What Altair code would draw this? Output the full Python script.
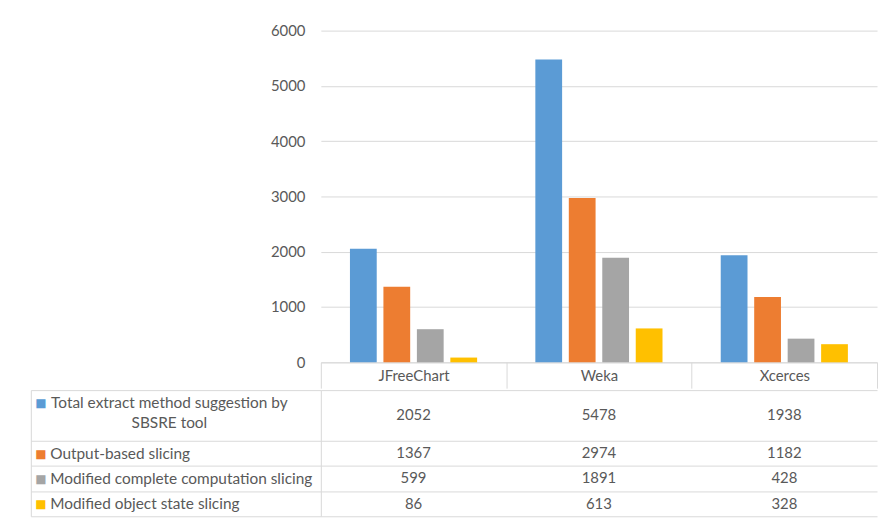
import altair as alt
import pandas as pd

categories = ["JFreeChart", "Weka", "Xcerces"]
series = [
    "Total extract method suggestion by SBSRE tool",
    "Output-based slicing",
    "Modified complete computation slicing",
    "Modified object state slicing",
]
label_lines = [
    ["Total extract method suggestion by", "SBSRE tool"],
    ["Output-based slicing"],
    ["Modified complete computation slicing"],
    ["Modified object state slicing"],
]
total_values = [2052, 5478, 1938]
output_values = [1367, 2974, 1182]
complete_values = [599, 1891, 428]
object_values = [86, 613, 328]
colors = ["#5B9BD5", "#ED7D31", "#A5A5A5", "#FFC000"]
y_ticks = [0, 1000, 2000, 3000, 4000, 5000, 6000]

FONT = "Lato"
FS = 15
FS_ROW = 15.5
TXT = "#595959"
GRID = "#D9D9D9"
LINE_H = 20

all_values = [total_values, output_values, complete_values, object_values]

bars_df = pd.DataFrame(
    [
        {"category": c, "series": s, "value": v}
        for s, vals in zip(series, all_values)
        for c, v in zip(categories, vals)
    ]
)

# table row geometry in "text line" units
centers, bounds = [], [0]
acc = 0
for lines in label_lines:
    centers.append(acc + len(lines) / 2)
    acc += len(lines)
    bounds.append(acc)
total_lines = acc

table_df = pd.DataFrame(
    [
        {"category": c, "series": s, "value": v, "center": ctr}
        for s, vals, ctr in zip(series, all_values, centers)
        for c, v in zip(categories, vals)
    ]
)


def js_str(t):
    return "'" + t.replace("'", "\\'") + "'"


def js_label(lines):
    if len(lines) == 1:
        return js_str(lines[0])
    return "[" + ", ".join(js_str(t) for t in lines) + "]"


single = [(c, l, col) for c, l, col in zip(centers, label_lines, colors) if len(l) == 1]
wrapped = [(c, l, col) for c, l, col in zip(centers, label_lines, colors) if len(l) > 1]


def text_expr(rows):
    e = ""
    for ctr, lines, _ in rows:
        e += f"datum.value == {ctr} ? {js_label(lines)} : "
    return e + "''"


def square_expr(rows):
    e = ""
    for ctr, _, _ in rows:
        e += f"datum.value == {ctr} ? '\u25a0' : "
    return e + "''"


def square_color(rows):
    return {
        "condition": [{"test": f"datum.value == {ctr}", "value": col} for ctr, _, col in rows],
        "value": TXT,
    }


bars = (
    alt.Chart(bars_df)
    .mark_bar()
    .encode(
        x=alt.X(
            "category:N",
            sort=categories,
            title=None,
            scale=alt.Scale(paddingInner=0, paddingOuter=0),
            axis=alt.Axis(
                labelAngle=0,
                tickBand="extent",
                tickSize=26,
                tickColor=GRID,
                domainColor=GRID,
                labelPadding=-13,
                labelBaseline="middle",
                labelFont=FONT,
                labelFontSize=FS,
                labelColor=TXT,
            ),
        ),
        xOffset=alt.XOffset(
            "series:N", sort=series, scale=alt.Scale(paddingInner=0.2, paddingOuter=0.87)
        ),
        y=alt.Y(
            "value:Q",
            title=None,
            scale=alt.Scale(domain=[0, 6000], nice=False),
            axis=alt.Axis(
                values=y_ticks,
                format="d",
                grid=True,
                gridColor=GRID,
                ticks=False,
                tickSize=0,
                domain=False,
                labelPadding=16,
                labelFont=FONT,
                labelFontSize=FS,
                labelColor=TXT,
            ),
        ),
        color=alt.Color(
            "series:N", sort=series, scale=alt.Scale(domain=series, range=colors), legend=None
        ),
    )
    .properties(width=560, height=334)
)

x_tab = alt.X(
    "category:N",
    sort=categories,
    title=None,
    scale=alt.Scale(paddingInner=0, paddingOuter=0),
    axis=alt.Axis(
        orient="bottom",
        labels=False,
        ticks=False,
        grid=True,
        tickBand="extent",
        gridColor=GRID,
        domainColor=GRID,
    ),
)
x_none = alt.X("category:N", sort=categories, axis=None)
y_scale = alt.Scale(domain=[0, total_lines], reverse=True, nice=False, zero=False)

cells = (
    alt.Chart(table_df)
    .mark_text(font=FONT, fontSize=FS, color=TXT)
    .encode(
        x=x_tab,
        y=alt.Y(
            "center:Q",
            title=None,
            scale=y_scale,
            axis=alt.Axis(
                orient="left",
                values=bounds,
                labels=False,
                tickSize=292,
                tickColor=GRID,
                grid=True,
                gridColor=GRID,
                domainColor=GRID,
            ),
        ),
        text="value:Q",
    )
)


def label_layer(axis):
    return (
        alt.Chart(table_df)
        .mark_text(opacity=0)
        .encode(
            x=x_none,
            y=alt.Y("center:Q", title=None, scale=y_scale, axis=axis),
            text="value:Q",
        )
    )


common = dict(
    orient="left",
    ticks=False,
    tickSize=0,
    grid=False,
    labelBaseline="middle",
    labelLimit=0,
    labelLineHeight=LINE_H,
)

# single-line row labels, left aligned
single_labels = label_layer(
    alt.Axis(
        values=[r[0] for r in single],
        domain=False,
        labelExpr=text_expr(single),
        labelAlign="left",
        labelPadding=273,
        labelFont=FONT,
        labelFontSize=FS_ROW,
        labelColor=TXT,
        **common,
    )
)
# wrapped row labels, lines centred
wrapped_labels = label_layer(
    alt.Axis(
        values=[r[0] for r in wrapped],
        domain=False,
        labelExpr=text_expr(wrapped),
        labelAlign="center",
        labelPadding=153,
        labelOffset=-LINE_H / 2 - 3,
        labelFont=FONT,
        labelFontSize=FS_ROW,
        labelColor=TXT,
        **common,
    )
)
# legend keys for single-line rows (+ left border of the table)
single_keys = label_layer(
    alt.Axis(
        values=[r[0] for r in single],
        offset=292,
        domain=True,
        domainColor=GRID,
        labelExpr=square_expr(single),
        labelAlign="left",
        labelPadding=-4,
        labelFont="DejaVu Sans",
        labelFontSize=12,
        labelColor=square_color(single),
        **common,
    )
)
# legend keys for wrapped rows (on first line)
wrapped_keys = label_layer(
    alt.Axis(
        values=[r[0] for r in wrapped],
        offset=292,
        domain=False,
        labelExpr=square_expr(wrapped),
        labelAlign="left",
        labelPadding=-4,
        labelOffset=-LINE_H / 2 - 3,
        labelFont="DejaVu Sans",
        labelFontSize=12,
        labelColor=square_color(wrapped),
        **common,
    )
)

table = (
    alt.layer(cells, single_labels, wrapped_labels, single_keys, wrapped_keys)
    .resolve_axis(y="independent")
    .properties(width=560, height=127)
)

chart = (
    alt.vconcat(bars, table, spacing=0)
    .properties(padding={"left": 22, "top": 14, "right": 0, "bottom": 0})
    .configure_view(strokeWidth=0)
)

chart.save("out.html", embed_options={"renderer": "svg", "actions": False})
